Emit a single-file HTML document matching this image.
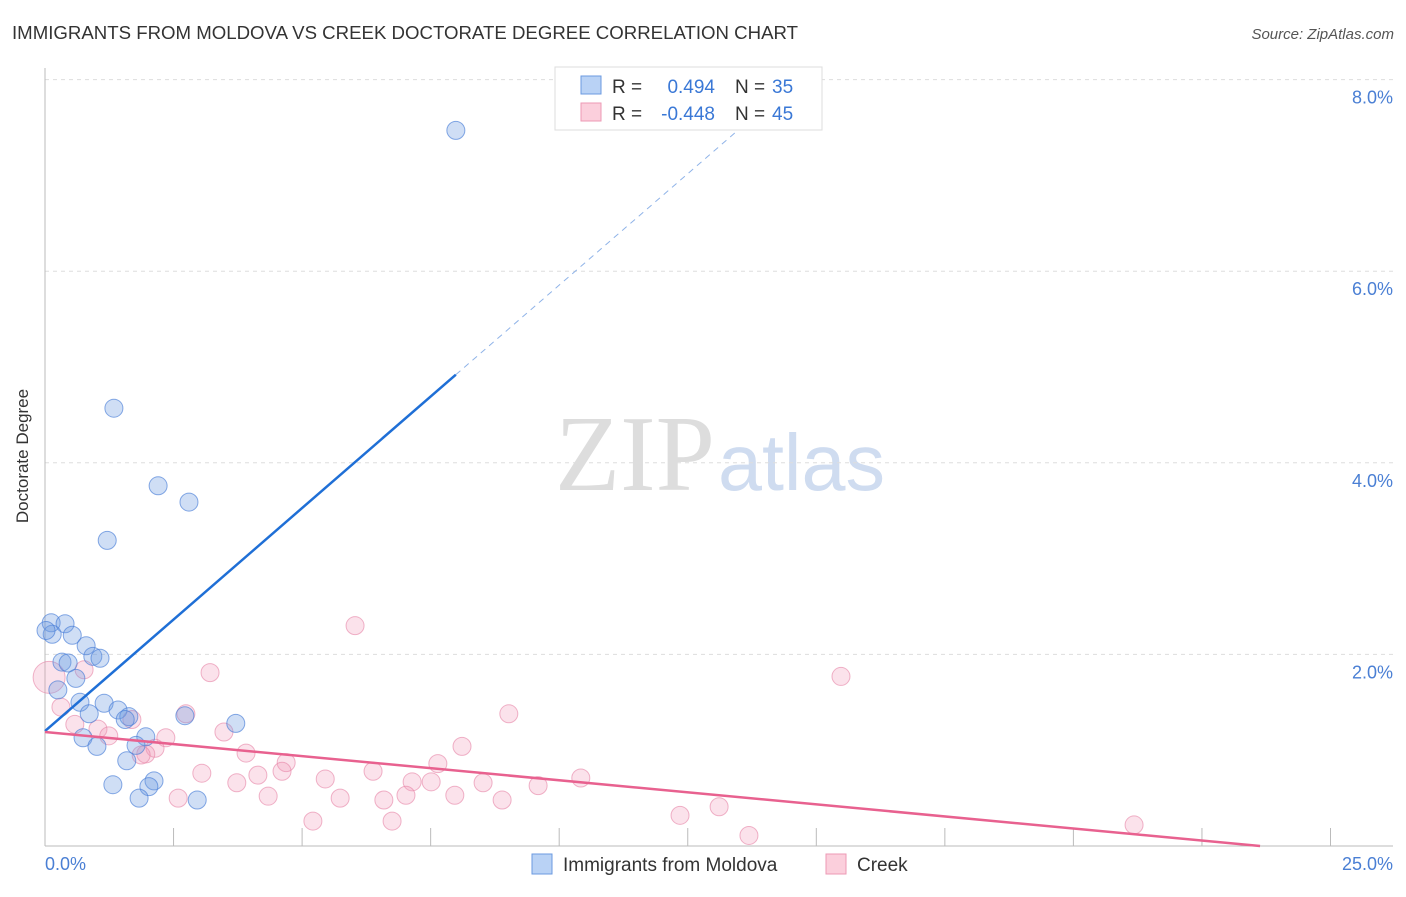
<!DOCTYPE html>
<html><head><meta charset="utf-8"><style>
body{margin:0;background:#fff;font-family:"Liberation Sans",sans-serif}
</style></head><body>
<svg width="1406" height="892" xmlns="http://www.w3.org/2000/svg" font-family="Liberation Sans, sans-serif">
<text x="12" y="39" font-size="18" fill="#333" textLength="786" lengthAdjust="spacingAndGlyphs">IMMIGRANTS FROM MOLDOVA VS CREEK DOCTORATE DEGREE CORRELATION CHART</text>
<text x="1394" y="39" font-size="15" fill="#555" text-anchor="end" font-style="italic">Source: ZipAtlas.com</text>
<text x="28" y="456" font-size="17" fill="#333" transform="rotate(-90 28 456)" text-anchor="middle">Doctorate Degree</text>
<text x="555" y="490" font-size="108" fill="#ddd" textLength="160" lengthAdjust="spacingAndGlyphs" font-family="Liberation Serif, serif">ZIP</text>
<text x="718" y="490" font-size="80" fill="#cfdcf0" textLength="167" lengthAdjust="spacingAndGlyphs">atlas</text>
<g id="grid"></g>
<g id="marks"></g>
<g>
<rect x="555" y="67" width="267" height="63" fill="#fff" stroke="#ddd"/>
<rect x="581" y="76" width="20" height="18" fill="#b9d2f5" stroke="#6b9ae0"/>
<rect x="581" y="103" width="20" height="18" fill="#fbcfdc" stroke="#ec9ab5"/>
<text x="612" y="93" font-size="19" fill="#333">R = </text><text x="715" y="93" font-size="19" fill="#3a78d6" text-anchor="end">0.494</text>
<text x="735" y="93" font-size="19" fill="#333">N = </text><text x="772" y="93" font-size="19" fill="#3a78d6">35</text>
<text x="612" y="120" font-size="19" fill="#333">R = </text><text x="715" y="120" font-size="19" fill="#3a78d6" text-anchor="end">-0.448</text>
<text x="735" y="120" font-size="19" fill="#333">N = </text><text x="772" y="120" font-size="19" fill="#3a78d6">45</text>
</g>
<g>
<rect x="532" y="854" width="20" height="20" fill="#b9d2f5" stroke="#6b9ae0"/>
<text x="563" y="871" font-size="19" fill="#333">Immigrants from Moldova</text>
<rect x="826" y="854" width="20" height="20" fill="#fbcfdc" stroke="#ec9ab5"/>
<text x="857" y="871" font-size="19" fill="#333">Creek</text>
</g>
</svg>
<script>
const blueX=[7.99,1.34,2.20,2.80,1.21,0.12,0.39,0.14,0.53,0.80,0.93,1.07,0.33,0.45,0.60,0.25,0.68,1.15,0.86,1.42,1.63,1.56,2.72,3.71,1.96,0.74,1.01,1.77,1.59,1.32,2.12,2.02,1.83,2.96,0.02];
const blueY=[7.47,4.57,3.76,3.59,3.19,2.33,2.32,2.21,2.20,2.09,1.98,1.96,1.92,1.91,1.75,1.63,1.50,1.49,1.38,1.42,1.35,1.32,1.36,1.28,1.14,1.13,1.04,1.05,0.89,0.64,0.68,0.62,0.50,0.48,2.25];
const pinkX=[0.08,6.03,3.21,15.48,0.76,0.31,9.02,2.74,1.69,0.58,1.03,1.24,2.35,3.48,2.14,1.96,8.11,3.91,4.69,7.64,6.38,3.05,4.14,4.61,5.45,7.14,7.51,8.52,3.73,10.42,9.59,7.02,7.97,4.34,5.74,6.59,8.89,2.59,5.21,6.75,12.35,13.11,13.69,21.18,1.87];
const pinkY=[1.76,2.30,1.81,1.77,1.84,1.45,1.38,1.38,1.32,1.27,1.22,1.15,1.13,1.19,1.02,0.96,1.04,0.97,0.87,0.86,0.78,0.76,0.74,0.78,0.70,0.67,0.67,0.66,0.66,0.71,0.63,0.53,0.53,0.52,0.50,0.48,0.48,0.50,0.26,0.26,0.32,0.41,0.11,0.22,0.95];
const blueLine=[[0,1.20],[7.99,4.92],[13.71,7.58]];
const pinkLine=[[0,1.19],[23.63,0]];
const yTicks=[2,4,6,8];
const yTickLabels=["2.0%","4.0%","6.0%","8.0%"];
const xTicks=[0,2.5,5,7.5,10,12.5,15,17.5,20,22.5,25];
const NS="http://www.w3.org/2000/svg";
const sx=v=>45+v*51.42, sy=v=>846-v*95.8;
function mk(tag,attrs,parent){const e=document.createElementNS(NS,tag);for(const k in attrs)e.setAttribute(k,attrs[k]);parent.appendChild(e);return e;}
const grid=document.getElementById('grid'), marks=document.getElementById('marks');
yTicks.forEach((t,i)=>{
 let l=mk('line',{x1:45,x2:1393,y1:sy(t),y2:sy(t),stroke:'#ddd','stroke-dasharray':'4,4'},grid);
 
 
 let tx=mk('text',{x:1393,y:sy(t)+24,'font-size':18,fill:'#4a7fd4','text-anchor':'end'},grid);
 tx.textContent=yTickLabels[i];
 
 
});
let ax=mk('line',{x1:45,x2:45,y1:68,y2:846,stroke:'#bbb'},grid);


let bx=mk('line',{x1:45,x2:1393,y1:846,y2:846,stroke:'#bbb'},grid);


xTicks.forEach(t=>{
 let l=mk('line',{x1:sx(t),x2:sx(t),y1:828,y2:846,stroke:'#bbb'},grid);
 
 
});
let x0=mk('text',{x:45,y:870,'font-size':18,fill:'#4a7fd4'},grid);x0.textContent='0.0%';


let x1=mk('text',{x:1393,y:870,'font-size':18,fill:'#4a7fd4','text-anchor':'end'},grid);x1.textContent='25.0%';


pinkX.forEach((v,i)=>{
 let c=mk('circle',{cx:sx(v),cy:sy(pinkY[i]),r:i===0?16:9,fill:'rgba(242,150,182,0.28)',stroke:'rgba(230,130,165,0.6)','stroke-width':1},marks);
 
 
});
blueX.forEach((v,i)=>{
 let c=mk('circle',{cx:sx(v),cy:sy(blueY[i]),r:9,fill:'rgba(110,155,225,0.33)',stroke:'rgba(70,125,215,0.65)','stroke-width':1},marks);
 
 
});
let bl=mk('line',{x1:sx(blueLine[0][0]),y1:sy(blueLine[0][1]),x2:sx(blueLine[1][0]),y2:sy(blueLine[1][1]),stroke:'#1f6fd6','stroke-width':2.5},marks);


let bd=mk('line',{x1:sx(blueLine[1][0]),y1:sy(blueLine[1][1]),x2:sx(blueLine[2][0]),y2:sy(blueLine[2][1]),stroke:'#8fb3e8','stroke-width':1,'stroke-dasharray':'6,5'},marks);


let pl=mk('line',{x1:sx(pinkLine[0][0]),y1:sy(pinkLine[0][1]),x2:sx(pinkLine[1][0]),y2:sy(pinkLine[1][1]),stroke:'#e8618f','stroke-width':2.5},marks);


</script>
</body></html>
